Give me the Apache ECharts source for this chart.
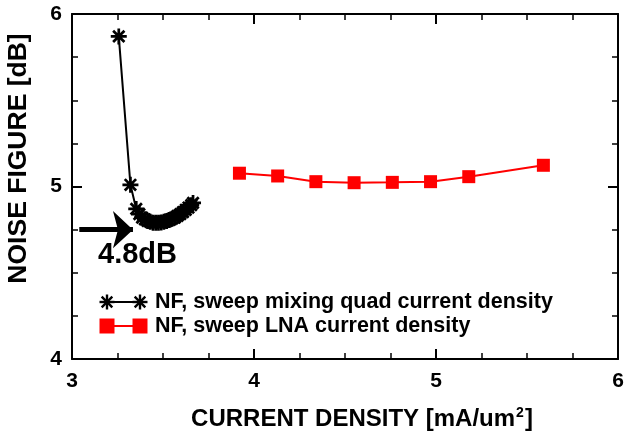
<!DOCTYPE html>
<html>
<head>
<meta charset="utf-8">
<script src="https://cdn.jsdelivr.net/npm/echarts@6/dist/echarts.min.js"></script>
<style>
  html, body { margin: 0; padding: 0; background: #fff; }
  #chart { width: 625px; height: 435px; }
</style>
</head>
<body>
<div id="chart"></div>
<script>
// Noise figure vs. current density
const quadX = [3.257, 3.321, 3.353, 3.37, 3.385, 3.40, 3.415, 3.43, 3.445, 3.46, 3.475, 3.49,
               3.505, 3.52, 3.535, 3.55, 3.565, 3.58, 3.595, 3.61, 3.625, 3.64, 3.655, 3.665];
const quadNF = [5.87, 5.01, 4.87, 4.84, 4.82, 4.81, 4.80, 4.795, 4.79, 4.79, 4.79, 4.792,
                4.796, 4.80, 4.806, 4.813, 4.82, 4.83, 4.84, 4.852, 4.865, 4.878, 4.892, 4.905];
const lnaX = [3.92, 4.13, 4.34, 4.55, 4.76, 4.97, 5.18, 5.59];
const lnaNF = [5.077, 5.061, 5.028, 5.022, 5.024, 5.028, 5.057, 5.123];

const seriesNames = ['NF, sweep mixing quad current density', 'NF, sweep LNA current density'];
const minNF = 4.75;            // arrow level
const minNFLabel = '4.8dB';
const xRange = [3, 6];
const yRange = [4, 6];

const FONT = '"Liberation Sans", Arial, Helvetica, sans-serif';

// asterisk as four rotated bars (each a list of corner points)
function starBars(cx, cy, r, w) {
  const bars = [];
  for (let k = 0; k < 4; k++) {
    const a = k * Math.PI / 4, c = Math.cos(a), s = Math.sin(a);
    bars.push([[-r, -w], [r, -w], [r, w], [-r, w]].map(([x, y]) =>
      [cx + x * c - y * s, cy + x * s + y * c]));
  }
  return bars;
}
const starSymbol = 'path://' + starBars(0, 0, 10, 1.7)
  .map(b => 'M' + b.map(p => p[0].toFixed(2) + ',' + p[1].toFixed(2)).join('L') + 'Z').join('');

const chart = echarts.init(document.getElementById('chart'), null, { renderer: 'canvas' });

const axisCommon = {
  type: 'value',
  interval: 1,
  splitLine: { show: false },
  axisLine: { show: true, lineStyle: { color: '#000', width: 2 } },
  axisTick: { show: true, inside: true, length: 10, lineStyle: { color: '#000', width: 2 } },
  minorTick: { show: true, splitNumber: 4, length: 6, lineStyle: { color: '#000', width: 1.5 } },
  minorSplitLine: { show: false }
};

const option = {
  animation: false,
  backgroundColor: '#fff',
  grid: { left: 72, right: 7, top: 14, bottom: 76, containLabel: false, outerBoundsMode: 'none' },
  xAxis: [
    Object.assign({}, axisCommon, {
      min: xRange[0], max: xRange[1], position: 'bottom',
      axisLabel: { color: '#000', fontSize: 21, fontWeight: 'bold', fontFamily: FONT, margin: 12 },
      name: '{a|CURRENT DENSITY [mA/um}{s|2}{a|]}',
      nameLocation: 'middle',
      nameGap: 47,
      nameTextStyle: {
        padding: [0, 0, 0, 34],
        rich: {
          a: { fontSize: 24, fontWeight: 'bold', fontFamily: FONT, color: '#000' },
          s: { fontSize: 14, fontWeight: 'bold', fontFamily: FONT, color: '#000', verticalAlign: 'top', padding: [0, 1, 12, 1] }
        }
      }
    }),
    Object.assign({}, axisCommon, {
      min: xRange[0], max: xRange[1], position: 'top',
      axisLabel: { show: false }
    })
  ],
  yAxis: [
    Object.assign({}, axisCommon, {
      min: yRange[0], max: yRange[1], position: 'left',
      axisLabel: { color: '#000', fontSize: 21, fontWeight: 'bold', fontFamily: FONT, margin: 10 },
      name: 'NOISE FIGURE [dB]',
      nameLocation: 'middle',
      nameGap: 40,
      nameTextStyle: { color: '#000', fontSize: 26.5, fontWeight: 'bold', fontFamily: FONT, padding: [0, 0, 0, 56] }
    }),
    Object.assign({}, axisCommon, {
      min: yRange[0], max: yRange[1], position: 'right',
      axisLabel: { show: false }
    })
  ],
  series: [
    {
      name: seriesNames[0],
      type: 'line',
      xAxisIndex: 0, yAxisIndex: 0,
      data: quadX.map((x, i) => [x, quadNF[i]]),
      symbol: starSymbol,
      symbolSize: 16,
      itemStyle: { color: '#000' },
      lineStyle: { color: '#000', width: 2 },
      z: 3,
      markLine: {
        silent: true,
        symbol: ['none', 'arrow'],
        symbolSize: [28, 20],
        lineStyle: { color: '#000', width: 5, type: 'solid' },
        label: { show: false },
        data: [[{ coord: [3.04, minNF] }, { coord: [3.335, minNF] }]]
      },
      markPoint: {
        silent: true,
        symbol: 'circle',
        symbolSize: 0,
        label: {
          show: true, position: 'inside', formatter: minNFLabel,
          color: '#000', fontSize: 29, fontWeight: 'bold', fontFamily: FONT
        },
        data: [{ coord: [3.36, 4.605] }]
      }
    },
    {
      name: seriesNames[1],
      type: 'line',
      xAxisIndex: 0, yAxisIndex: 0,
      data: lnaX.map((x, i) => [x, lnaNF[i]]),
      symbol: 'rect',
      symbolSize: 13,
      itemStyle: { color: '#ff0000' },
      lineStyle: { color: '#ff0000', width: 2 },
      z: 3
    }
  ]
};
chart.setOption(option);

// legend drawn as a small key with a marker at each end of the line sample
function legendRow(y, color, isStar, label) {
  const x1 = 107, x2 = 140;
  const items = [
    { type: 'line', shape: { x1: x1, y1: y, x2: x2, y2: y }, style: { stroke: color, lineWidth: 2 } }
  ];
  [x1, x2].forEach(x => {
    if (isStar) {
      starBars(x, y, 7.5, 1.2).forEach(pts => {
        items.push({ type: 'polygon', shape: { points: pts }, style: { fill: color } });
      });
    } else {
      items.push({ type: 'rect', shape: { x: x - 7.5, y: y - 7.5, width: 15, height: 15 }, style: { fill: color } });
    }
  });
  items.push({
    type: 'text', x: 155, y: y,
    style: { text: label, fill: '#000', font: 'bold 21.5px ' + FONT, verticalAlign: 'middle' }
  });
  return items;
}
chart.setOption({
  graphic: [].concat(
    legendRow(302, '#000', true, seriesNames[0]),
    legendRow(326, '#ff0000', false, seriesNames[1])
  )
});
</script>
</body>
</html>
